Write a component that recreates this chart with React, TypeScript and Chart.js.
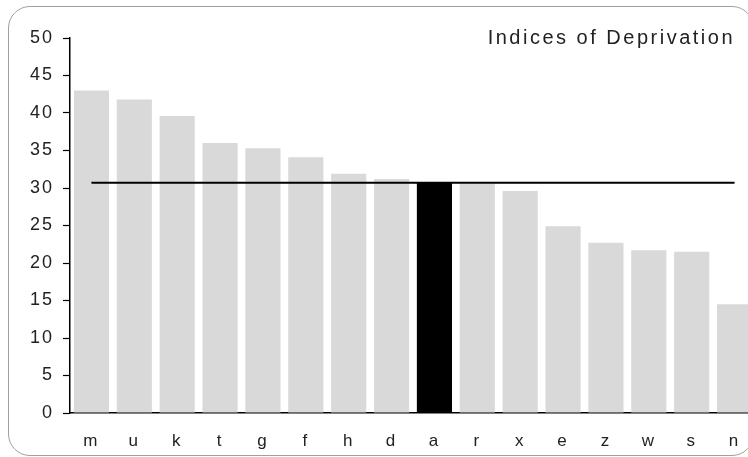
import React, { useEffect, useRef } from "react";
import { Chart, registerables } from "chart.js";

Chart.register(...registerables);

const categories = ["m", "u", "k", "t", "g", "f", "h", "d", "a", "r", "x", "e", "z", "w", "s", "n"];
const values = [43.0, 41.8, 39.6, 36.0, 35.3, 34.1, 31.9, 31.2, 30.8, 30.6, 29.6, 24.9, 22.7, 21.7, 21.5, 14.5];
const highlight = "a";
const averageValue = 30.7;
const yTicks = [0, 5, 10, 15, 20, 25, 30, 35, 40, 45, 50];
const titleText = "Indices of Deprivation";

const FONT = "'Liberation Sans', Arial, sans-serif";

export default function App() {
  const ref = useRef<HTMLCanvasElement | null>(null);

  useEffect(() => {
    const canvas = ref.current;
    if (!canvas) return;

    const spacingPlugin = {
      id: "spacing",
      beforeDraw(chart: any) {
        (chart.ctx as any).letterSpacing = "2px";
      },
    };

    const titlePlugin = {
      id: "innerTitle",
      afterDraw(chart: any) {
        const ctx = chart.ctx;
        ctx.save();
        ctx.font = `20px ${FONT}`;
        (ctx as any).letterSpacing = "2.5px";
        ctx.fillStyle = "#222";
        ctx.textAlign = "right";
        ctx.textBaseline = "middle";
        ctx.fillText(titleText, 735, chart.chartArea.top);
        ctx.restore();
      },
    };

    const chart = new Chart(canvas, {
      data: {
        labels: categories,
        datasets: [
          {
            type: "line" as const,
            data: categories.map(() => averageValue),
            borderColor: "#000",
            borderWidth: 2,
            pointRadius: 0,
            fill: false,
            order: 0,
          },
          {
            type: "bar" as const,
            data: values,
            backgroundColor: categories.map((c) => (c === highlight ? "#000" : "#d9d9d9")),
            borderWidth: 0,
            barPercentage: 0.82,
            categoryPercentage: 1,
            order: 1,
          },
        ],
      },
      options: {
        animation: false,
        responsive: false,
        maintainAspectRatio: false,
        events: [],
        layout: { padding: { top: 38, right: 14, bottom: 0, left: 0 } },
        plugins: {
          legend: { display: false },
          tooltip: { enabled: false },
          title: { display: false },
        },
        scales: {
          x: {
            grid: { display: false, drawTicks: false },
            border: { display: true, color: "#000", width: 1.5 },
            ticks: {
              color: "#222",
              font: { family: FONT, size: 17 },
              padding: 18,
              maxRotation: 0,
            },
            afterFit(scale: any) {
              scale.height = 44;
            },
          },
          y: {
            min: 0,
            max: 50,
            afterBuildTicks(scale: any) {
              scale.ticks = yTicks.map((v) => ({ value: v }));
            },
            grid: {
              display: true,
              drawOnChartArea: false,
              drawTicks: true,
              tickLength: 7,
              color: "#000",
              tickWidth: 1.2,
            },
            border: { display: true, color: "#000", width: 1.5 },
            ticks: {
              color: "#222",
              font: { family: FONT, size: 18 },
              padding: 9,
            },
            afterFit(scale: any) {
              scale.width = 70;
            },
          },
        },
      },
      plugins: [spacingPlugin, titlePlugin],
    } as any);

    return () => chart.destroy();
  }, []);

  return (
    <div
      style={{
        position: "absolute",
        left: 0,
        top: 0,
        width: 748,
        height: 457,
        overflow: "hidden",
        background: "#fff",
      }}
    >
      <canvas ref={ref} width={770} height={457} style={{ position: "absolute", left: 0, top: 0, width: 770, height: 457 }} />
      <div
        style={{
          position: "absolute",
          left: 8,
          top: 6,
          width: 744,
          height: 448,
          border: "1.5px solid #a0a0a0",
          borderRadius: 22,
          pointerEvents: "none",
        }}
      />
    </div>
  );
}
